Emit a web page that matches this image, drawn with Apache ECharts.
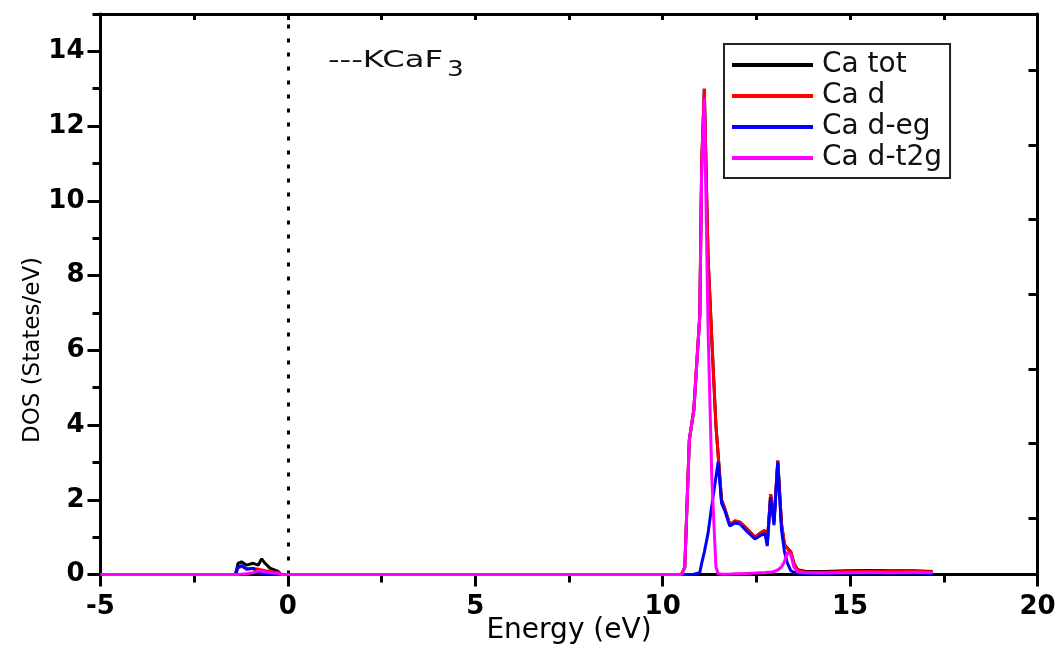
<!DOCTYPE html>
<html>
<head>
<meta charset="utf-8">
<script src="https://cdn.jsdelivr.net/npm/echarts@6/dist/echarts.min.js"></script>
<style>
html,body{margin:0;padding:0;background:#fff;}
#chart{width:1059px;height:646px;}
</style>
</head>
<body>
<div id="chart"></div>
<script>
// Energy grid (eV)
const energy = [-5, -1.40, -1.33, -1.24, -1.10, -0.93, -0.79, -0.70, -0.61, -0.48, -0.26, -0.17,
  10.50, 10.59, 10.71, 10.83, 10.99, 11.04, 11.11, 11.21, 11.31, 11.42, 11.48, 11.57, 11.66, 11.79,
  11.93, 12.06, 12.25, 12.46, 12.62, 12.73, 12.79, 12.88, 12.97, 13.07, 13.17, 13.25, 13.33, 13.42,
  13.50, 13.60, 13.80, 14.30, 14.90, 15.50, 16.10, 16.70, 17.20];

// DOS values (States/eV)
const caTot = [0, 0, 0.30, 0.34, 0.25, 0.30, 0.25, 0.42, 0.30, 0.17, 0.08, 0,
  0, 0.2, 3.6, 4.4, 6.95, 11.0, 13.0, 8.5, 6.3, 4.0, 3.2, 2.0, 1.75, 1.33,
  1.43, 1.40, 1.22, 1.00, 1.12, 1.18, 0.85, 2.15, 1.42, 3.05, 1.35, 0.80, 0.70, 0.60,
  0.30, 0.13, 0.09, 0.08, 0.10, 0.11, 0.10, 0.10, 0.08];
const caD = [0, 0, 0.18, 0.22, 0.15, 0.16, 0.14, 0.12, 0.10, 0.08, 0.05, 0,
  0, 0.2, 3.6, 4.4, 6.95, 11.0, 13.0, 8.5, 6.3, 4.0, 3.2, 2.0, 1.75, 1.33,
  1.43, 1.40, 1.22, 1.00, 1.12, 1.18, 0.85, 2.15, 1.42, 3.05, 1.35, 0.80, 0.70, 0.60,
  0.30, 0.12, 0.07, 0.06, 0.08, 0.09, 0.08, 0.09, 0.07];
const caDeg = [0, 0, 0.20, 0.24, 0.14, 0.17, 0.05, 0.03, 0.02, 0.01, 0, 0,
  0, 0, 0, 0.01, 0.05, 0.3, 0.6, 1.1, 1.85, 2.6, 3.02, 1.91, 1.7, 1.3,
  1.38, 1.35, 1.15, 0.95, 1.05, 1.10, 0.76, 2.07, 1.32, 3.0, 1.19, 0.6, 0.3, 0.1,
  0.06, 0.04, 0.03, 0.03, 0.04, 0.04, 0.04, 0.04, 0.03];
const caDt2g = [0, 0, 0, 0.01, 0.02, 0.05, 0.10, 0.09, 0.07, 0.05, 0.03, 0,
  0, 0.2, 3.6, 4.4, 6.9, 10.8, 12.75, 6.6, 2.6, 0.2, 0.02, 0.01, 0.01, 0.01,
  0.02, 0.02, 0.03, 0.04, 0.05, 0.05, 0.06, 0.06, 0.08, 0.12, 0.2, 0.35, 0.6, 0.52,
  0.2, 0.07, 0.05, 0.04, 0.05, 0.06, 0.05, 0.06, 0.05];

const seriesNames = ['Ca tot', 'Ca d', 'Ca d-eg', 'Ca d-t2g'];
const seriesColors = ['#000000', '#ff0000', '#0000ff', '#ff00ff'];
const seriesValues = [caTot, caD, caDeg, caDt2g];

// Axis tick positions
const xTicks = { min: -5, max: 20, interval: 5 };
const yTicks = { min: 0, max: 15, interval: 2 };
const yMinorTicks = [1, 3, 5, 7, 9, 11, 13, 15];
const yRightTicks = [1.5, 3.5, 5.5, 7.5, 9.5, 11.5, 13.5];

const FONT = 'DejaVu Sans';
const chart = echarts.init(document.getElementById('chart'), null, { renderer: 'canvas' });

const series = seriesNames.map((name, k) => ({
  name: name,
  type: 'line',
  xAxisIndex: 0,
  yAxisIndex: 0,
  showSymbol: false,
  symbol: 'none',
  smooth: false,
  clip: true,
  data: energy.map((e, i) => [e, seriesValues[k][i]]),
  lineStyle: { color: seriesColors[k], width: 3 },
  itemStyle: { color: seriesColors[k] },
  z: 2 + k
}));
series[0].markLine = {
  silent: true,
  symbol: 'none',
  label: { show: false },
  lineStyle: { color: '#000', type: [4, 10], width: 3 },
  data: [{ xAxis: 0 }]
};

const option = {
  animation: false,
  backgroundColor: '#ffffff',
  grid: { left: 100.5, right: 21.5, top: 14, bottom: 71.5, containLabel: false, outerBoundsMode: 'none' },
  legend: {
    orient: 'vertical',
    left: 724, top: 44,
    padding: [7, 8, 6, 8],
    itemWidth: 81, itemHeight: 4,
    itemGap: 3,
    icon: 'rect',
    borderColor: '#222', borderWidth: 2,
    backgroundColor: '#fff',
    textStyle: { fontFamily: FONT, fontSize: 28, color: '#111', lineHeight: 28, padding: [0, 0, 0, 4] },
    data: seriesNames.map((n, k) => ({ name: n, itemStyle: { color: seriesColors[k] } }))
  },
  xAxis: [
    {
      type: 'value', position: 'bottom',
      min: xTicks.min, max: xTicks.max, interval: xTicks.interval,
      axisLine: { show: true, onZero: false, lineStyle: { color: '#000', width: 3 } },
      axisTick: { show: true, inside: false, length: 12, lineStyle: { color: '#000', width: 3 } },
      minorTick: { show: true, splitNumber: 2, length: 8, lineStyle: { color: '#000', width: 3 } },
      axisLabel: { fontFamily: FONT, fontWeight: 'bold', fontSize: 26, color: '#000', margin: 20 },
      splitLine: { show: false },
      name: 'Energy (eV)', nameLocation: 'middle', nameGap: 42, nameMoveOverlap: false,
      nameTextStyle: { fontFamily: FONT, fontSize: 28, color: '#000' }
    },
    {
      type: 'value', position: 'top',
      min: xTicks.min, max: xTicks.max, interval: xTicks.interval / 2,
      axisLine: { show: true, onZero: false, lineStyle: { color: '#000', width: 3 } },
      axisTick: { show: true, inside: true, length: 6, lineStyle: { color: '#000', width: 3 } },
      axisLabel: { show: false },
      splitLine: { show: false }
    }
  ],
  yAxis: [
    {
      type: 'value', position: 'left',
      min: yTicks.min, max: yTicks.max, interval: yTicks.interval,
      axisLine: { show: true, onZero: false, lineStyle: { color: '#000', width: 3 } },
      axisTick: { show: true, inside: false, length: 13, lineStyle: { color: '#000', width: 3 } },
      axisLabel: { fontFamily: FONT, fontWeight: 'bold', fontSize: 26, color: '#000', margin: 16, showMaxLabel: false },
      splitLine: { show: false }
    },
    {
      type: 'value', position: 'left',
      min: yTicks.min, max: yTicks.max, interval: 1,
      axisLine: { show: false, onZero: false },
      axisTick: { show: true, inside: false, length: 8, customValues: yMinorTicks, lineStyle: { color: '#000', width: 3 } },
      axisLabel: { show: false },
      splitLine: { show: false }
    },
    {
      type: 'value', position: 'right',
      min: yTicks.min, max: yTicks.max, interval: 1,
      axisLine: { show: true, onZero: false, lineStyle: { color: '#000', width: 3 } },
      axisTick: { show: true, inside: true, length: 9, customValues: yRightTicks, lineStyle: { color: '#000', width: 3 } },
      axisLabel: { show: false },
      splitLine: { show: false }
    }
  ],
  graphic: [
    {
      type: 'text', x: 33, y: 350, rotation: Math.PI / 2,
      style: { text: 'DOS (States/eV)', fontFamily: FONT, fontSize: 23, fill: '#000', align: 'center', verticalAlign: 'middle' }
    },
    {
      type: 'text', x: 328, y: 61, scaleX: 1.4,
      style: { text: '---KCaF', fontFamily: FONT, fontSize: 23, fill: '#111', align: 'left', verticalAlign: 'middle' }
    },
    {
      type: 'text', x: 447, y: 70, scaleX: 1.2,
      style: { text: '3', fontFamily: FONT, fontSize: 22, fill: '#111', align: 'left', verticalAlign: 'middle' }
    }
  ],
  series: series
};
chart.setOption(option);
</script>
</body>
</html>
